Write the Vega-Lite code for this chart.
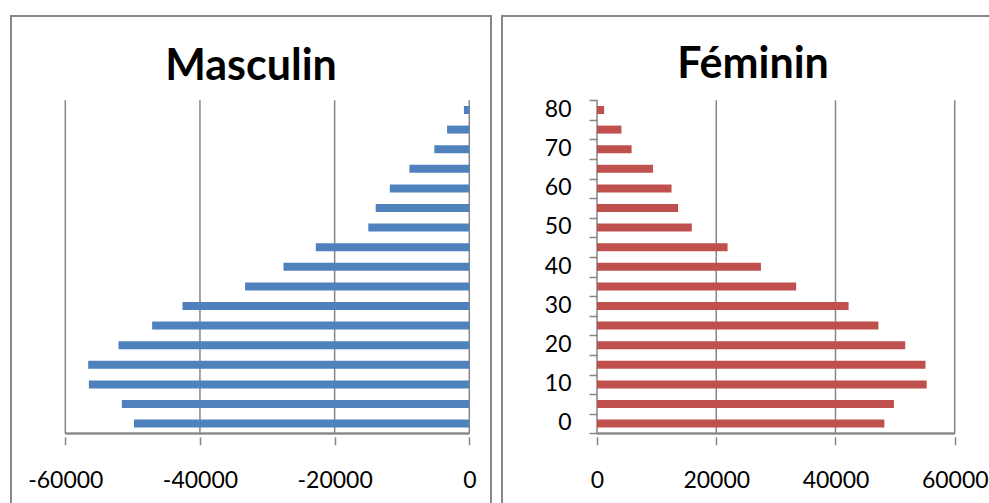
{
  "$schema": "https://vega.github.io/schema/vega-lite/v6.json",
  "background": "white",
  "padding": {"left": 10, "top": 15, "right": 0, "bottom": 0},
  "spacing": 9,
  "datasets": {
    "pop": [
      {"age": 0, "hommes": -49800, "femmes": 48200},
      {"age": 5, "hommes": -51600, "femmes": 49800},
      {"age": 10, "hommes": -56500, "femmes": 55300},
      {"age": 15, "hommes": -56600, "femmes": 55100},
      {"age": 20, "hommes": -52100, "femmes": 51700},
      {"age": 25, "hommes": -47100, "femmes": 47200},
      {"age": 30, "hommes": -42600, "femmes": 42200},
      {"age": 35, "hommes": -33300, "femmes": 33400},
      {"age": 40, "hommes": -27600, "femmes": 27500},
      {"age": 45, "hommes": -22800, "femmes": 21900},
      {"age": 50, "hommes": -15000, "femmes": 15900},
      {"age": 55, "hommes": -13900, "femmes": 13600},
      {"age": 60, "hommes": -11800, "femmes": 12500},
      {"age": 65, "hommes": -8900, "femmes": 9400},
      {"age": 70, "hommes": -5200, "femmes": 5800},
      {"age": 75, "hommes": -3300, "femmes": 4100},
      {"age": 80, "hommes": -800, "femmes": 1200}
    ],
    "gridM": [{"v": -60000}, {"v": -40000}, {"v": -20000}, {"v": 0}],
    "gridF": [{"v": 0}, {"v": 20000}, {"v": 40000}, {"v": 60000}]
  },
  "hconcat": [
    {
      "width": 480,
      "height": 500,
      "view": {"stroke": "#878787", "strokeWidth": 2},
      "title": {"text": "Masculin", "font": "Lato", "fontSize": 43, "fontWeight": "bold", "color": "black", "anchor": "middle", "frame": "group", "baseline": "bottom", "offset": -116},
      "layer": [
        {
          "data": {"name": "gridM"},
          "mark": {"type": "rule", "color": "#868686", "strokeWidth": 1.5},
          "encoding": {
            "x": {"field": "v", "type": "quantitative", "scale": {"domain": [-68065, 3223], "nice": false, "zero": false},
              "axis": {"orient": "bottom", "values": [-60000, -40000, -20000, 0], "labelExpr": "toString(datum.value)", "offset": -79.2, "tickSize": 8, "labelPadding": 43, "labelBaseline": "alphabetic", "title": null}},
            "y": {"datum": -2.5, "type": "quantitative", "scale": {"domain": [-22.3, 102.7], "nice": false, "zero": false}, "axis": null},
            "y2": {"datum": 82.5}
          }
        },
        {
          "data": {"name": "gridM"},
          "mark": {"type": "rule", "color": "#868686", "strokeWidth": 1.5},
          "encoding": {
            "x": {"datum": -60000, "type": "quantitative", "scale": {"domain": [-68065, 3223], "nice": false, "zero": false},
              "axis": {"orient": "bottom", "values": [-60000, -40000, -20000, 0], "labelExpr": "toString(datum.value)", "offset": -79.2, "tickSize": 8, "labelPadding": 43, "labelBaseline": "alphabetic", "title": null}},
            "x2": {"datum": 0},
            "y": {"datum": -2.5, "type": "quantitative", "scale": {"domain": [-22.3, 102.7], "nice": false, "zero": false}, "axis": null}
          }
        },
        {
          "data": {"name": "pop"},
          "mark": {"type": "bar", "orient": "horizontal", "size": 8, "color": "#4F81BD"},
          "encoding": {
            "x": {"field": "hommes", "type": "quantitative", "scale": {"domain": [-68065, 3223], "nice": false, "zero": false},
              "axis": {"orient": "bottom", "values": [-60000, -40000, -20000, 0], "labelExpr": "toString(datum.value)", "offset": -79.2, "tickSize": 8, "labelPadding": 43, "labelBaseline": "alphabetic", "title": null}},
            "y": {"field": "age", "type": "quantitative", "scale": {"domain": [-22.3, 102.7], "nice": false, "zero": false}, "axis": null}
          }
        }
      ]
    },
    {
      "width": 502,
      "height": 500,
      "view": {"stroke": "#878787", "strokeWidth": 2},
      "title": {"text": "Féminin", "font": "Lato", "fontSize": 43, "fontWeight": "bold", "color": "black", "anchor": "middle", "frame": "group", "baseline": "bottom", "offset": -114},
      "layer": [
        {
          "data": {"name": "gridF"},
          "mark": {"type": "rule", "color": "#868686", "strokeWidth": 1.5},
          "encoding": {
            "x": {"field": "v", "type": "quantitative", "scale": {"domain": [-15935, 68266], "nice": false, "zero": false},
              "axis": {"orient": "bottom", "values": [0, 20000, 40000, 60000], "labelExpr": "toString(datum.value)", "offset": -79.2, "tickSize": 8, "labelPadding": 43, "labelBaseline": "alphabetic", "title": null}},
            "y": {"datum": -2.5, "type": "quantitative", "scale": {"domain": [-22.3, 102.7], "nice": false, "zero": false},
              "axis": {"orient": "left", "values": [-2.5, 2.5, 7.5, 12.5, 17.5, 22.5, 27.5, 32.5, 37.5, 42.5, 47.5, 52.5, 57.5, 62.5, 67.5, 72.5, 77.5, 82.5],
                "labelExpr": "(datum.value + 2.5) % 10 == 0 ? toString(datum.value + 2.5) : ''",
                "offset": -95, "tickSize": 8, "labelPadding": 18, "labelOffset": -10.5, "labelBaseline": "middle", "labelAlign": "right", "labelOverlap": false, "title": null}},
            "y2": {"datum": 82.5}
          }
        },
        {
          "data": {"name": "gridF"},
          "mark": {"type": "rule", "color": "#868686", "strokeWidth": 1.5},
          "encoding": {
            "x": {"datum": 0, "type": "quantitative", "scale": {"domain": [-15935, 68266], "nice": false, "zero": false},
              "axis": {"orient": "bottom", "values": [0, 20000, 40000, 60000], "labelExpr": "toString(datum.value)", "offset": -79.2, "tickSize": 8, "labelPadding": 43, "labelBaseline": "alphabetic", "title": null}},
            "x2": {"datum": 60000},
            "y": {"datum": -2.5, "type": "quantitative", "scale": {"domain": [-22.3, 102.7], "nice": false, "zero": false},
              "axis": {"orient": "left", "values": [-2.5, 2.5, 7.5, 12.5, 17.5, 22.5, 27.5, 32.5, 37.5, 42.5, 47.5, 52.5, 57.5, 62.5, 67.5, 72.5, 77.5, 82.5],
                "labelExpr": "(datum.value + 2.5) % 10 == 0 ? toString(datum.value + 2.5) : ''",
                "offset": -95, "tickSize": 8, "labelPadding": 18, "labelOffset": -10.5, "labelBaseline": "middle", "labelAlign": "right", "labelOverlap": false, "title": null}}
          }
        },
        {
          "data": {"name": "pop"},
          "mark": {"type": "bar", "orient": "horizontal", "size": 8, "color": "#C0504D"},
          "encoding": {
            "x": {"field": "femmes", "type": "quantitative", "scale": {"domain": [-15935, 68266], "nice": false, "zero": false},
              "axis": {"orient": "bottom", "values": [0, 20000, 40000, 60000], "labelExpr": "toString(datum.value)", "offset": -79.2, "tickSize": 8, "labelPadding": 43, "labelBaseline": "alphabetic", "title": null}},
            "y": {"field": "age", "type": "quantitative", "scale": {"domain": [-22.3, 102.7], "nice": false, "zero": false},
              "axis": {"orient": "left", "values": [-2.5, 2.5, 7.5, 12.5, 17.5, 22.5, 27.5, 32.5, 37.5, 42.5, 47.5, 52.5, 57.5, 62.5, 67.5, 72.5, 77.5, 82.5],
                "labelExpr": "(datum.value + 2.5) % 10 == 0 ? toString(datum.value + 2.5) : ''",
                "offset": -95, "tickSize": 8, "labelPadding": 18, "labelOffset": -10.5, "labelBaseline": "middle", "labelAlign": "right", "labelOverlap": false, "title": null}}
          }
        }
      ]
    }
  ],
  "config": {
    "axis": {"labelFont": "Lato", "labelFontSize": 23, "labelColor": "black", "tickColor": "#868686", "tickWidth": 1.5, "domain": false, "grid": false, "labelFlush": false, "labelOverlap": false}
  }
}
